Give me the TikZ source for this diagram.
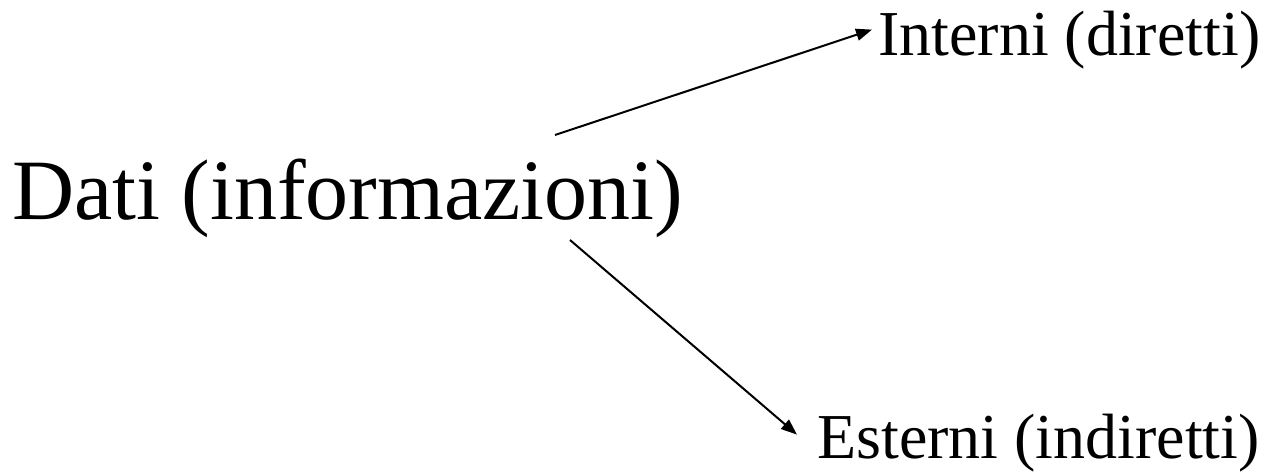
\documentclass[tikz,border=0pt]{standalone}
\usepackage{fontspec}
\setmainfont{Liberation Serif}
\usetikzlibrary{positioning,arrows.meta}

\tikzset{
  big/.style={inner sep=0pt, anchor=base west, font=\fontsize{86}{96}\selectfont},
  small/.style={inner sep=0pt, anchor=base west, font=\fontsize{64}{70}\selectfont},
  arr/.style={-{Triangle[length=16pt,width=12pt]}, line width=2pt}
}

\begin{document}
\begin{tikzpicture}[x=1pt, y=-1pt]
    \useasboundingbox (0,0) rectangle (1268,472);
    \node (dati) [big] at (12,219) {Dati (informazioni)};
    \node (interni) [small] at (878,55) {Interni (diretti)};
    \node (esterni) [small] at (817,458) {Esterni (indiretti)};
    \coordinate (d1) at (555,135);
    \coordinate (d2) at (570,240);
    \draw[arr] (d1) -- ([xshift=-6pt,yshift=10pt]interni.west);
    \draw[arr] (d2) -- ([xshift=-20pt,yshift=8pt]esterni.west);
  \end{tikzpicture}
\end{document}
